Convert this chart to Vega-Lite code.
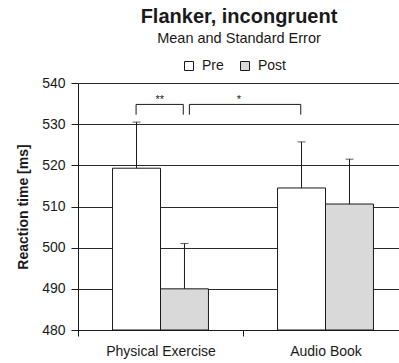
{
  "$schema": "https://vega.github.io/schema/vega-lite/v6.json",
  "width": 330,
  "height": 247,
  "autosize": "none",
  "padding": {"left": 78, "top": 83, "right": 0, "bottom": 33},
  "background": "white",
  "config": {"font": "Liberation Sans", "view": {"stroke": null}},
  "title": {
    "text": "Flanker, incongruent",
    "subtitle": "Mean and Standard Error",
    "fontSize": 20,
    "fontWeight": "bold",
    "color": "#1a1a1a",
    "subtitleFontSize": 14.5,
    "subtitleColor": "#1a1a1a",
    "subtitlePadding": 5,
    "anchor": "middle",
    "offset": 14,
    "dx": -4
  },
  "datasets": {
    "bars": [
      {"cat": "Physical Exercise", "group": "Pre", "mean": 519.3, "upper": 530.5},
      {"cat": "Physical Exercise", "group": "Post", "mean": 490.0, "upper": 501.0},
      {"cat": "Audio Book", "group": "Pre", "mean": 514.5, "upper": 525.7},
      {"cat": "Audio Book", "group": "Post", "mean": 510.6, "upper": 521.5}
    ],
    "brackets": [
      {"id": "b1", "from": "Physical Exercise", "to": "Physical Exercise", "y": 534.8, "tip": 532.3, "label": "**"},
      {"id": "b2", "from": "Physical Exercise", "to": "Audio Book", "y": 534.8, "tip": 532.3, "label": "*"}
    ]
  },
  "data": {"name": "bars"},
  "layer": [
    {
      "mark": {"type": "bar", "stroke": "#1a1a1a", "strokeWidth": 1},
      "encoding": {
        "x": {
          "field": "cat", "type": "nominal",
          "scale": {"domain": ["Physical Exercise", "Audio Book"], "paddingInner": 0, "paddingOuter": 0},
          "axis": {
            "title": null, "labelAngle": 0, "labelFontSize": 14, "labelColor": "#1a1a1a",
            "tickBand": "extent", "tickSize": 6, "tickColor": "#1a1a1a",
            "domainColor": "#1a1a1a", "labelPadding": 8, "grid": false
          }
        },
        "xOffset": {
          "field": "group", "type": "nominal",
          "scale": {"domain": ["Pre", "Post"], "paddingInner": 0, "paddingOuter": 0.72}
        },
        "y": {
          "field": "mean", "type": "quantitative",
          "scale": {"domain": [480, 540], "zero": false, "nice": false},
          "axis": {
            "title": "Reaction time [ms]", "titleFontSize": 14, "titleFontWeight": "bold",
            "titleColor": "#1a1a1a", "titlePadding": 11,
            "values": [480, 490, 500, 510, 520, 530, 540],
            "labelFontSize": 14, "labelColor": "#1a1a1a", "labelPadding": 6,
            "tickSize": 7, "tickColor": "#1a1a1a", "domainColor": "#1a1a1a",
            "grid": true, "gridColor": "#2a2a2a", "gridWidth": 1.2
          }
        },
        "y2": {"datum": 480},
        "fill": {
          "field": "group", "type": "nominal",
          "scale": {"domain": ["Pre", "Post"], "range": ["#ffffff", "#d9d9d9"]},
          "legend": {
            "title": null, "orient": "none", "direction": "horizontal",
            "legendX": 104, "legendY": -24,
            "symbolType": "square", "symbolSize": 81,
            "symbolStrokeColor": "#1a1a1a", "symbolStrokeWidth": 1,
            "labelFontSize": 14, "labelColor": "#1a1a1a", "labelOffset": 6,
            "columnPadding": 14
          }
        }
      }
    },
    {
      "mark": {"type": "rule", "color": "#1a1a1a", "strokeWidth": 1},
      "encoding": {
        "x": {"field": "cat", "type": "nominal"},
        "xOffset": {"field": "group", "type": "nominal"},
        "y": {"field": "mean", "type": "quantitative"},
        "y2": {"field": "upper"}
      }
    },
    {
      "mark": {"type": "tick", "color": "#1a1a1a", "size": 8, "thickness": 1},
      "encoding": {
        "x": {"field": "cat", "type": "nominal"},
        "xOffset": {"field": "group", "type": "nominal"},
        "y": {"field": "upper", "type": "quantitative"}
      }
    },
    {
      "data": {"name": "brackets"},
      "transform": [{"filter": "datum.id === 'b1'"}],
      "layer": [
        {
          "mark": {"type": "rule", "color": "#1a1a1a", "strokeWidth": 1},
          "encoding": {
            "x": {"field": "from", "type": "nominal", "bandPosition": 0.352},
            "x2": {"field": "to", "bandPosition": 0.638},
            "y": {"field": "y", "type": "quantitative"}
          }
        },
        {
          "mark": {"type": "rule", "color": "#1a1a1a", "strokeWidth": 1},
          "encoding": {
            "x": {"field": "from", "type": "nominal", "bandPosition": 0.352},
            "y": {"field": "tip", "type": "quantitative"},
            "y2": {"field": "y"}
          }
        },
        {
          "mark": {"type": "rule", "color": "#1a1a1a", "strokeWidth": 1},
          "encoding": {
            "x": {"field": "to", "type": "nominal", "bandPosition": 0.638},
            "y": {"field": "tip", "type": "quantitative"},
            "y2": {"field": "y"}
          }
        },
        {
          "mark": {"type": "text", "fontSize": 11, "color": "#1a1a1a", "baseline": "alphabetic", "dy": -1},
          "encoding": {
            "x": {"field": "from", "type": "nominal", "bandPosition": 0.495},
            "y": {"field": "y", "type": "quantitative"},
            "text": {"field": "label"}
          }
        }
      ]
    },
    {
      "data": {"name": "brackets"},
      "transform": [{"filter": "datum.id === 'b2'"}],
      "layer": [
        {
          "mark": {"type": "rule", "color": "#1a1a1a", "strokeWidth": 1},
          "encoding": {
            "x": {"field": "from", "type": "nominal", "bandPosition": 0.675},
            "x2": {"field": "to", "bandPosition": 0.35},
            "y": {"field": "y", "type": "quantitative"}
          }
        },
        {
          "mark": {"type": "rule", "color": "#1a1a1a", "strokeWidth": 1},
          "encoding": {
            "x": {"field": "from", "type": "nominal", "bandPosition": 0.675},
            "y": {"field": "tip", "type": "quantitative"},
            "y2": {"field": "y"}
          }
        },
        {
          "mark": {"type": "rule", "color": "#1a1a1a", "strokeWidth": 1},
          "encoding": {
            "x": {"field": "to", "type": "nominal", "bandPosition": 0.35},
            "y": {"field": "tip", "type": "quantitative"},
            "y2": {"field": "y"}
          }
        },
        {
          "mark": {"type": "text", "fontSize": 11, "color": "#1a1a1a", "baseline": "alphabetic", "dy": -1},
          "encoding": {
            "x": {"field": "from", "type": "nominal", "bandPosition": 0.975},
            "y": {"field": "y", "type": "quantitative"},
            "text": {"field": "label"}
          }
        }
      ]
    }
  ]
}
